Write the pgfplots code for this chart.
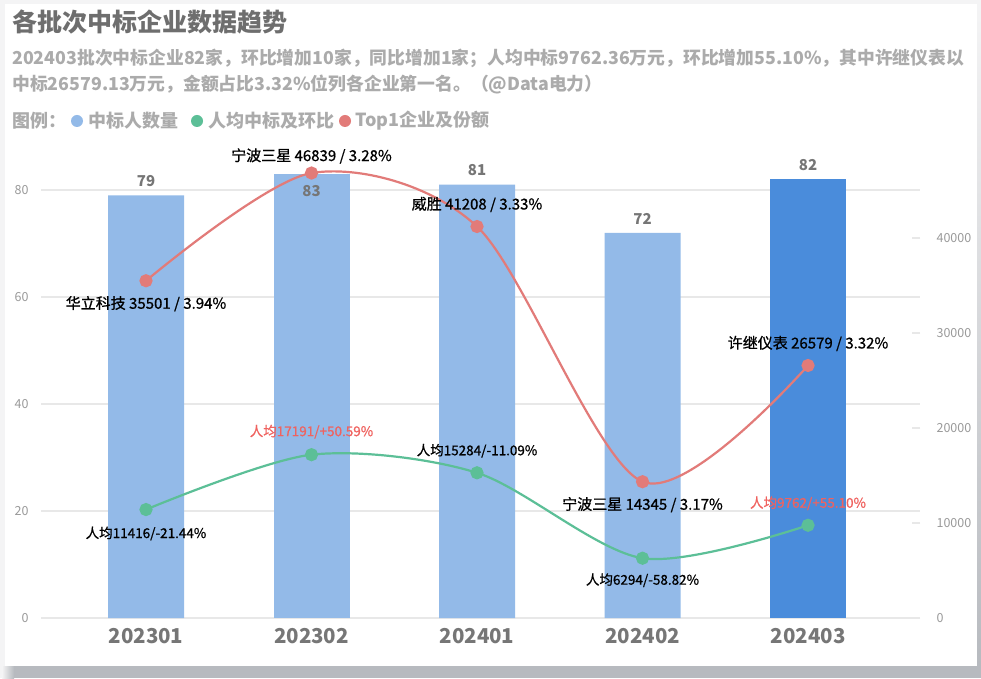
\documentclass[border=0pt]{standalone}
\usepackage{fontspec}
\setmainfont{Noto Sans CJK SC}
\newfontfamily\labelfont{Noto Sans CJK SC}[FakeBold=0.8]
\usepackage{pgfplots}
\pgfplotsset{compat=1.18}
\definecolor{bgout}{HTML}{F4F4F5}
\definecolor{shadow}{HTML}{B7BABF}
\definecolor{titlegray}{HTML}{6E6E6E}
\definecolor{subgray}{HTML}{ABABAB}
\definecolor{tickgray}{HTML}{9A9A9A}
\definecolor{xgray}{HTML}{767676}
\definecolor{gridc}{HTML}{E8E8E8}
\definecolor{barlight}{HTML}{93BAE8}
\definecolor{bardark}{HTML}{4A8CDB}
\definecolor{redline}{HTML}{E27B79}
\definecolor{greenline}{HTML}{5CBF97}
\definecolor{redtext}{HTML}{F0625F}
\newcommand{\fs}[1]{\fontsize{#1}{#1}\selectfont}
\pgfplotsset{
  base/.style={
    at={(146pt,60pt)}, anchor=origin, scale only axis,
    width=879pt, height=481.5pt,
    xmin=-0.634, xmax=4.677,
    clip=false,
    /pgf/number format/assume math mode=true,
    /pgf/number format/1000 sep={},
    scaled y ticks=false,
  }
}
\begin{document}
\begin{tikzpicture}
\useasboundingbox (0pt,0pt) rectangle (981pt,678pt);
\fill[bgout] (0pt,0pt) rectangle (981pt,678pt);
\fill[shadow] (14pt,0pt) rectangle (981pt,12pt);
\shade[left color=bgout, right color=shadow] (2pt,0pt) rectangle (14pt,12pt);
\shade[bottom color=shadow, top color=bgout] (977pt,12pt) rectangle (981pt,674pt);
\fill[white] (5pt,12pt) rectangle (977pt,674pt);

% titles
\node[anchor=west, inner sep=0, text=titlegray, font=\bfseries\fs{25}] at (12pt,656pt) {各批次中标企业数据趋势};
\node[anchor=west, inner sep=0, text=subgray, font=\bfseries\fs{17.8}] at (12pt,620pt) {202403批次中标企业82家，环比增加10家，同比增加1家；人均中标9762.36万元，环比增加55.10\%，其中许继仪表以};
\node[anchor=west, inner sep=0, text=subgray, font=\bfseries\fs{17.8}] at (12pt,594pt) {中标26579.13万元，金额占比3.32\%位列各企业第一名。（@Data电力）};
% legend
\node[anchor=west, inner sep=0, text=subgray, font=\bfseries\fs{18}] at (12pt,557pt) {图例：};
\fill[barlight] (77pt,557pt) circle (6pt);
\node[anchor=west, inner sep=0, text=subgray, font=\bfseries\fs{18}] at (88pt,557pt) {中标人数量};
\fill[greenline] (197pt,557pt) circle (6pt);
\node[anchor=west, inner sep=0, text=subgray, font=\bfseries\fs{18}] at (208pt,557pt) {人均中标及环比};
\fill[redline] (345pt,557pt) circle (6pt);
\node[anchor=west, inner sep=0, text=subgray, font=\bfseries\fs{18}] at (355pt,557pt) {Top1企业及份额};

% left axis with bars
\begin{axis}[base,
  ymin=0, ymax=90,
  axis line style={draw=none},
  ytick={0,20,40,60,80},
  ymajorgrids, grid style={gridc, line width=1.2pt},
  major tick length=0pt,
  xtick={0,1,2,3,4},
  xticklabels={202301,202302,202401,202402,202403},
  xticklabel style={text=xgray, font=\bfseries\fs{20.5}, yshift=-7pt},
  yticklabel style={text=tickgray, font=\fs{12.5}, xshift=-9pt},
]
\addplot[ybar, bar width=76pt, bar shift=0pt, fill=barlight, draw=none,
  nodes near coords, every node near coord/.append style={text=xgray, font=\bfseries\fs{15}, yshift=5pt}]
  coordinates {(0,79) (2,81) (3,72)};
\addplot[ybar, bar width=76pt, bar shift=0pt, fill=barlight, draw=none,
  nodes near coords, every node near coord/.append style={text=xgray, font=\bfseries\fs{15}, anchor=north, yshift=-8pt}]
  coordinates {(1,83)};
\addplot[ybar, bar width=76pt, bar shift=0pt, fill=bardark, draw=none,
  nodes near coords, every node near coord/.append style={text=xgray, font=\bfseries\fs{15}, yshift=5pt}]
  coordinates {(4,82)};
\end{axis}

% right axis with lines
\begin{axis}[base,
  ymin=0, ymax=50684,
  axis x line=none,
  axis y line*=right,
  axis line style={draw=none},
  ytick={0,10000,20000,30000,40000},
  tick align=inside,
  major tick length=8pt,
  tick style={gridc, line width=1.5pt},
  yticklabel style={text=tickgray, font=\fs{12.5}, xshift=13pt},
]
\addplot[smooth, tension=0.5, redline, line width=2.2pt, mark=*, mark size=5.5pt, mark options={fill=redline, draw=none}]
  coordinates {(0,35501) (1,46839) (2,41208) (3,14345) (4,26579)};
\addplot[smooth, tension=0.5, greenline, line width=2.2pt, mark=*, mark size=5.5pt, mark options={fill=greenline, draw=none}]
  coordinates {(0,11416) (1,17191) (2,15284) (3,6294) (4,9762)};
% red series labels
\node[font=\labelfont\fs{15}, text=black, yshift=-23pt] at (axis cs:0,35501) {华立科技 35501 / 3.94\%};
\node[font=\labelfont\fs{15}, text=black, yshift=17pt] at (axis cs:1,46839) {宁波三星 46839 / 3.28\%};
\node[font=\labelfont\fs{15}, text=black, yshift=22pt] at (axis cs:2,41208) {威胜 41208 / 3.33\%};
\node[font=\labelfont\fs{15}, text=black, yshift=-23pt] at (axis cs:3,14345) {宁波三星 14345 / 3.17\%};
\node[font=\labelfont\fs{15}, text=black, yshift=22pt] at (axis cs:4,26579) {许继仪表 26579 / 3.32\%};
% green series labels
\node[font=\labelfont\fs{13.5}, text=black, yshift=-24pt] at (axis cs:0,11416) {人均11416/-21.44\%};
\node[font=\labelfont\fs{13.5}, text=redtext, yshift=23pt] at (axis cs:1,17191) {人均17191/+50.59\%};
\node[font=\labelfont\fs{13.5}, text=black, yshift=22pt] at (axis cs:2,15284) {人均15284/-11.09\%};
\node[font=\labelfont\fs{13.5}, text=black, yshift=-22pt] at (axis cs:3,6294) {人均6294/-58.82\%};
\node[font=\labelfont\fs{13.5}, text=redtext, yshift=22pt] at (axis cs:4,9762) {人均9762/+55.10\%};
\end{axis}
\end{tikzpicture}
\end{document}
